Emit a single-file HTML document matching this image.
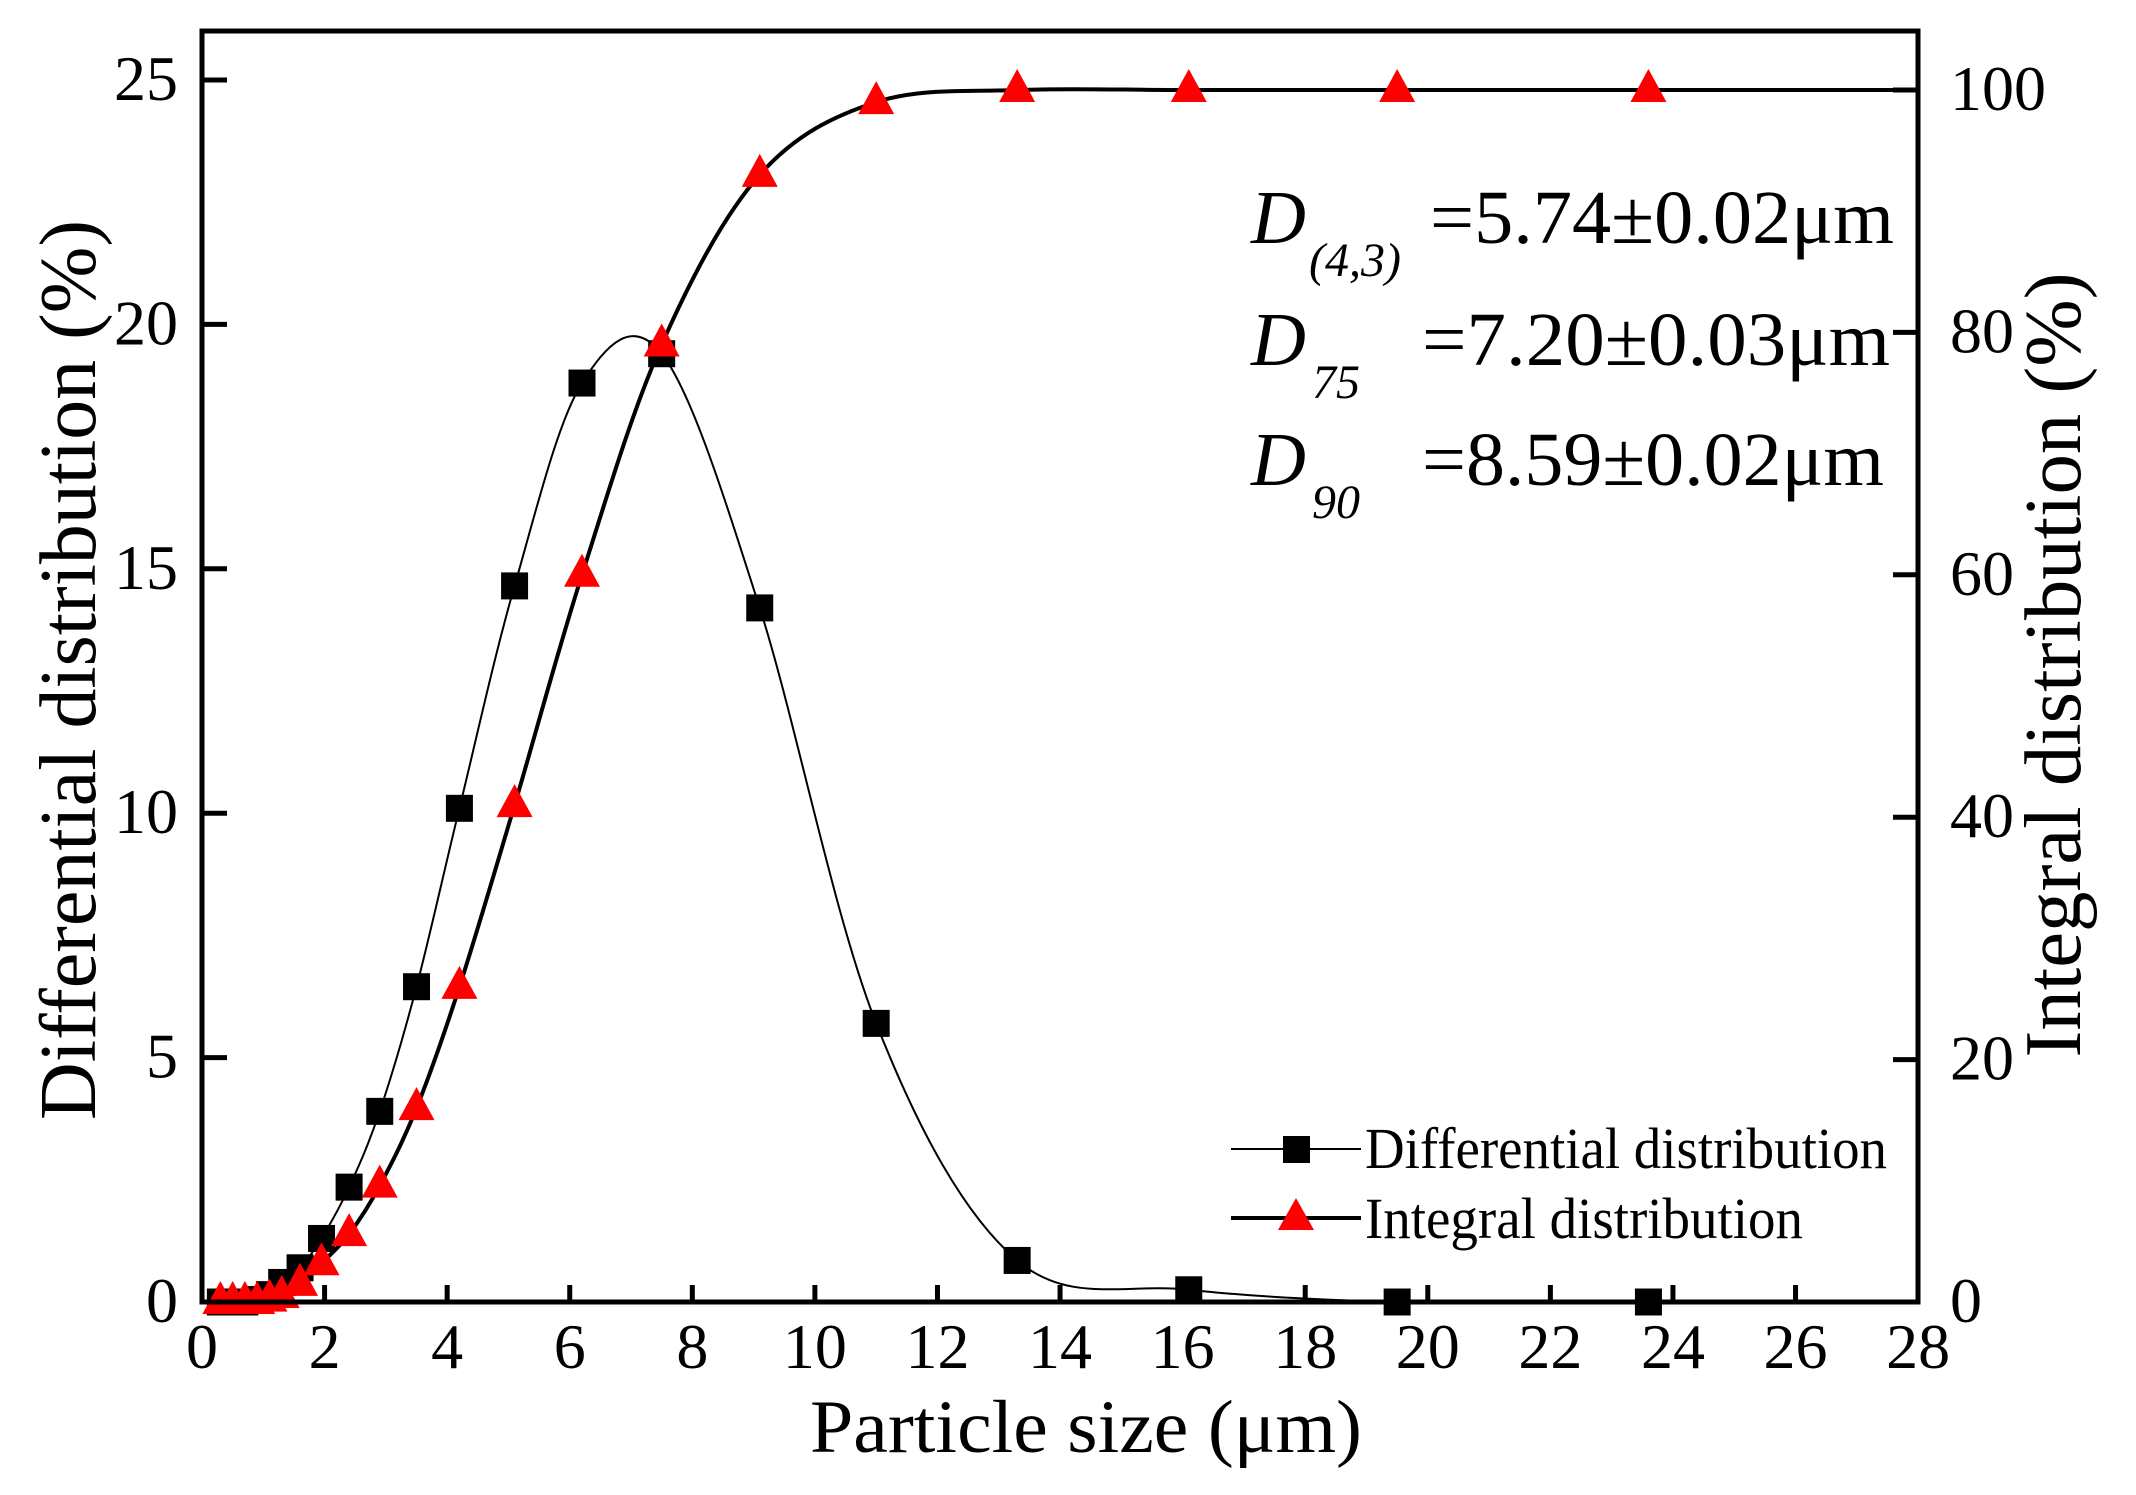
<!DOCTYPE html>
<html><head><meta charset="utf-8"><style>
html,body{margin:0;padding:0;background:#fff;}
svg{display:block;}
text{font-family:"Liberation Serif","Times New Roman",serif;fill:#000;}
</style></head><body>
<svg id="s" width="2136" height="1495" viewBox="0 0 2136 1495" xmlns="http://www.w3.org/2000/svg">
<rect width="2136" height="1495" fill="#fff"/>
<g id="curves"></g>
<g id="marks"></g>
<rect x="202" y="31" width="1716" height="1271" fill="none" stroke="#000" stroke-width="5"/>
<g id="ticks" stroke="#000" stroke-width="5"></g>
<g id="labels" font-size="64"></g>
<text x="0" y="0" font-size="80" transform="translate(95,670) rotate(-90)" text-anchor="middle" textLength="900" lengthAdjust="spacingAndGlyphs">Differential distribution (%)</text>
<text x="0" y="0" font-size="80" transform="translate(2080,665) rotate(-90)" text-anchor="middle" textLength="785" lengthAdjust="spacingAndGlyphs">Integral distribution (%)</text>
<text x="810" y="1452" font-size="75" textLength="552" lengthAdjust="spacingAndGlyphs">Particle size (μm)</text>
<g font-size="76">
<text x="1251" y="243" font-style="italic">D</text>
<text x="1309" y="276" font-size="48" font-style="italic">(4,3)</text>
<text x="1430" y="243" textLength="464" lengthAdjust="spacingAndGlyphs">=5.74±0.02μm</text>
<text x="1251" y="365" font-style="italic">D</text>
<text x="1312" y="398" font-size="48" font-style="italic">75</text>
<text x="1422" y="365" textLength="468" lengthAdjust="spacingAndGlyphs">=7.20±0.03μm</text>
<text x="1251" y="485" font-style="italic">D</text>
<text x="1312" y="518" font-size="48" font-style="italic">90</text>
<text x="1422" y="485" textLength="462" lengthAdjust="spacingAndGlyphs">=8.59±0.02μm</text>
</g>
<line x1="1231" y1="1149" x2="1361" y2="1149" stroke="#000" stroke-width="2"/>
<rect x="1283" y="1136" width="27" height="27" fill="#000"/>
<text x="1365" y="1168" font-size="58" textLength="522" lengthAdjust="spacingAndGlyphs">Differential distribution</text>
<line x1="1231" y1="1218" x2="1361" y2="1218" stroke="#000" stroke-width="4"/>
<polygon points="1296,1198 1314,1230 1278,1230" fill="#f00"/>
<text x="1365" y="1238" font-size="58" textLength="438" lengthAdjust="spacingAndGlyphs">Integral distribution</text>
</svg>
<script>
var NS="http://www.w3.org/2000/svg";
function X(v){return 202+v*61.29;}
function Y(v){return 1302-v*48.88;}
function YR(v){return 1302-v*12.12;}
function el(p,t,a){var e=document.createElementNS(NS,t);for(var k in a)e.setAttribute(k,a[k]);p.appendChild(e);return e;}
var xs=[0.3,0.5,0.7,0.9,1.1,1.3,1.6,1.95,2.4,2.9,3.5,4.2,5.1,6.2,7.5,9.1,11,13.3,16.1,19.5,23.6];
var dv=[0,0,0,0.05,0.15,0.4,0.7,1.3,2.35,3.9,6.45,10.1,14.65,18.8,19.4,14.2,5.7,0.85,0.25,0,0];
var iv=[0,0,0,0,0.2,0.5,1.5,3.2,5.6,9.6,16,26,41,60,79,93,99,100,100,100,100];
function path(px,py){
  var d="M"+px[0]+","+py[0];
  for(var i=0;i<px.length-1;i++){
    var p0=i>0?i-1:i,p3=i+2<px.length?i+2:i+1;
    var c1x=px[i]+(px[i+1]-px[p0])/6,c1y=py[i]+(py[i+1]-py[p0])/6;
    var c2x=px[i+1]-(px[p3]-px[i])/6,c2y=py[i+1]-(py[p3]-py[i])/6;
    d+=" C"+c1x+","+c1y+" "+c2x+","+c2y+" "+px[i+1]+","+py[i+1];
  }
  return d;
}
var cg=document.getElementById("curves");
var ax=xs.concat([28]).map(X);
var dy=dv.concat([0]).map(Y);
var iy=iv.concat([100]).map(YR);
el(cg,"path",{d:path(ax,dy),fill:"none",stroke:"#000","stroke-width":2});
el(cg,"path",{d:path(ax,iy),fill:"none",stroke:"#000","stroke-width":4});
var mg=document.getElementById("marks");
for(var i=0;i<xs.length;i++){
  var x=X(xs[i]),y=Y(dv[i]);
  el(mg,"rect",{x:x-13.5,y:y-13.5,width:27,height:27,fill:"#000"});
}
for(var i=0;i<xs.length;i++){
  var x=X(xs[i]),y=YR(iv[i]);
  el(mg,"polygon",{points:(x)+","+(y-21)+" "+(x+18)+","+(y+12)+" "+(x-18)+","+(y+12),fill:"#f00"});
}
var tg=document.getElementById("ticks"),lg=document.getElementById("labels");
for(var v=0;v<=28;v+=2){
  var x=X(v);
  if(v>0&&v<28)el(tg,"line",{x1:x,y1:1302,x2:x,y2:1285});
  var t=el(lg,"text",{x:x,y:1368,"text-anchor":"middle"});t.textContent=v;
}
for(var v=0;v<=25;v+=5){
  var y=Y(v);
  if(v>0)el(tg,"line",{x1:202,y1:y,x2:227,y2:y});
  var t=el(lg,"text",{x:178,y:y+20,"text-anchor":"end"});t.textContent=v;
}
for(var v=0;v<=100;v+=20){
  var y=YR(v);
  if(v>0)el(tg,"line",{x1:1918,y1:y,x2:1893,y2:y});
  var t=el(lg,"text",{x:1950,y:y+20});t.textContent=v;
}
</script>
</body></html>
